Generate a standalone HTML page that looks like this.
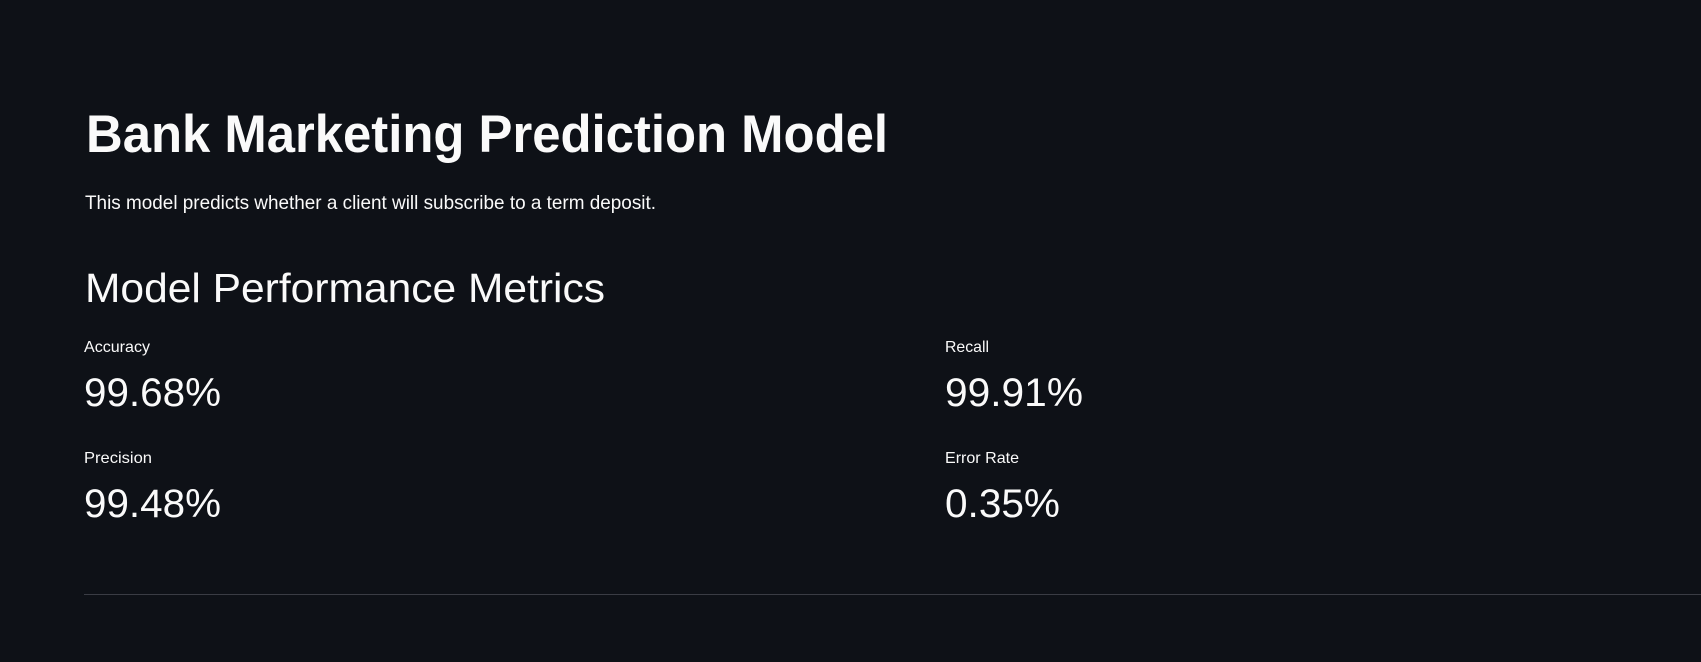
<!DOCTYPE html>
<html><head><meta charset="utf-8">
<style>
html,body{margin:0;padding:0;background:#0e1117;width:1701px;height:662px;overflow:hidden;}
.t{position:absolute;white-space:nowrap;line-height:1;color:#fafafa;font-family:"Liberation Sans",sans-serif;transform-origin:0 0;}
#rule{position:absolute;left:84px;top:594px;width:1617px;height:1px;background:#3a3c44;}
</style></head><body>
<div class="t" data-w="802" data-f="53" data-b="153" style="left:86px;font-weight:bold;">Bank Marketing Prediction Model</div>
<div class="t" data-w="571" data-f="19.5" data-b="211" style="left:85px;">This model predicts whether a client will subscribe to a term deposit.</div>
<div class="t" data-w="520" data-f="40.5" data-b="302" style="left:85px;">Model Performance Metrics</div>
<div class="t" data-w="66" data-f="16" data-b="354" style="left:84px;">Accuracy</div>
<div class="t" data-w="137" data-f="40" data-b="407" style="left:84px;">99.68%</div>
<div class="t" data-w="68" data-f="16" data-b="465" style="left:84px;">Precision</div>
<div class="t" data-w="137" data-f="40" data-b="518" style="left:84px;">99.48%</div>
<div class="t" data-w="44" data-f="16" data-b="354" style="left:945px;">Recall</div>
<div class="t" data-w="138" data-f="40" data-b="407" style="left:945px;">99.91%</div>
<div class="t" data-w="74" data-f="16" data-b="465" style="left:945px;">Error Rate</div>
<div class="t" data-w="115" data-f="40" data-b="518" style="left:945px;">0.35%</div>
<div id="rule"></div>
<script>
document.querySelectorAll('.t').forEach(function(el){
  var f=parseFloat(el.getAttribute('data-f'));
  var b=parseFloat(el.getAttribute('data-b'));
  el.style.fontSize=f+'px';
  el.style.top=(b-0.8465*f)+'px';
  var w=parseFloat(el.getAttribute('data-w'));
  var r=el.getBoundingClientRect().width;
  if(r>0) el.style.transform='scaleX('+(w/r)+')';
});
</script>
</body></html>
